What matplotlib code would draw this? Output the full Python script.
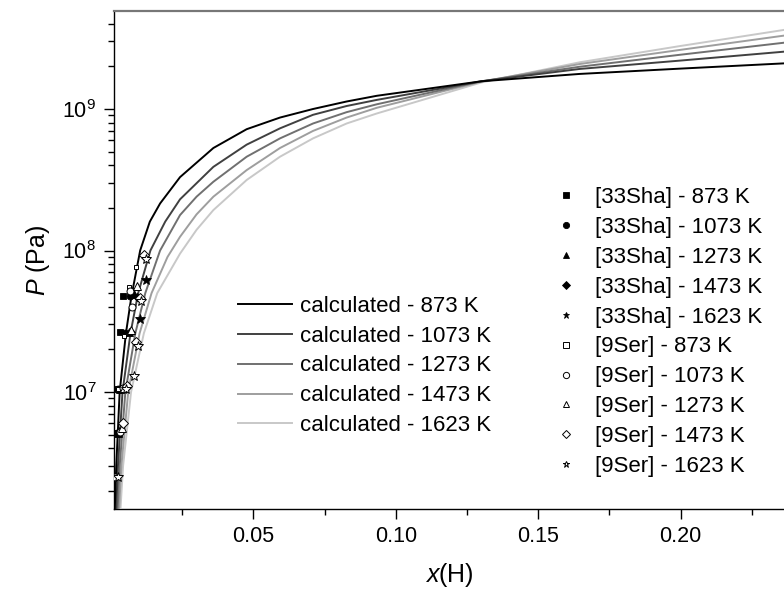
import matplotlib
matplotlib.use("Agg")
import matplotlib.pyplot as plt
from matplotlib.ticker import FixedLocator, NullFormatter, LogLocator, LogFormatterSciNotation

plt.rcParams['font.family'] = ['Liberation Sans', 'DejaVu Sans']
plt.rcParams['mathtext.fontset'] = 'custom'
plt.rcParams['mathtext.rm'] = 'Liberation Sans'
plt.rcParams['mathtext.it'] = 'Liberation Sans:italic'

# calculated curves (x(H), P in Pa)
temps = ['873', '1073', '1273', '1473', '1623']

x_873 = [0.0013, 0.0018, 0.0030, 0.0052, 0.0071, 0.0102, 0.0136, 0.0172, 0.0242, 0.0359,
         0.0476, 0.0593, 0.0709, 0.0827, 0.0933, 0.1300, 0.1646, 0.2000, 0.2400]
p_873 = [1.5e6, 3.0e6, 1.0e7, 2.6e7, 4.7e7, 1.0e8, 1.6e8, 2.15e8, 3.3e8, 5.3e8,
         7.2e8, 8.7e8, 1.0e9, 1.13e9, 1.24e9, 1.57e9, 1.77e9, 1.93e9, 2.12e9]

x_1073 = [0.0018, 0.0024, 0.0040, 0.0068, 0.0095, 0.0138, 0.0190, 0.0242, 0.0359, 0.0476,
          0.0593, 0.0709, 0.0827, 0.0933, 0.1300, 0.1646, 0.2000, 0.2400]
p_1073 = [1.5e6, 3.0e6, 1.0e7, 2.6e7, 5.0e7, 1.0e8, 1.6e8, 2.3e8, 3.9e8, 5.6e8,
          7.3e8, 9.1e8, 1.05e9, 1.16e9, 1.57e9, 1.92e9, 2.2e9, 2.58e9]

x_1273 = [0.0023, 0.0030, 0.0050, 0.0085, 0.0120, 0.0172, 0.0242, 0.0300, 0.0359, 0.0476,
          0.0593, 0.0709, 0.0827, 0.0933, 0.1300, 0.1646, 0.2000, 0.2400]
p_1273 = [1.5e6, 3.0e6, 1.0e7, 2.6e7, 5.0e7, 1.0e8, 1.78e8, 2.4e8, 3.06e8, 4.6e8,
          6.2e8, 7.9e8, 9.5e8, 1.08e9, 1.57e9, 1.99e9, 2.42e9, 3.0e9]

x_1473 = [0.0028, 0.0036, 0.0060, 0.0100, 0.0142, 0.0198, 0.0242, 0.0300, 0.0359, 0.0476,
          0.0593, 0.0709, 0.0827, 0.0933, 0.1300, 0.1646, 0.2000, 0.2400]
p_1473 = [1.5e6, 3.0e6, 1.0e7, 2.6e7, 5.0e7, 9.0e7, 1.25e8, 1.8e8, 2.4e8, 3.7e8,
          5.3e8, 7.0e8, 8.7e8, 1.02e9, 1.56e9, 2.08e9, 2.62e9, 3.38e9]

x_1623 = [0.0033, 0.0042, 0.0070, 0.0115, 0.0162, 0.0242, 0.0300, 0.0359, 0.0476, 0.0593,
          0.0709, 0.0827, 0.0933, 0.1300, 0.1646, 0.2000, 0.2400]
p_1623 = [1.5e6, 3.0e6, 1.0e7, 2.6e7, 5.0e7, 9.5e7, 1.4e8, 1.93e8, 3.15e8, 4.6e8,
          6.2e8, 7.9e8, 9.3e8, 1.54e9, 2.14e9, 2.79e9, 3.72e9]

# experimental points
sha_873_x = [0.0018, 0.0020, 0.0031, 0.0042]
sha_873_p = [5.1e6, 1.05e7, 2.65e7, 4.8e7]
sha_1073_x = [0.0020, 0.0024, 0.0050, 0.0068]
sha_1073_p = [5.1e6, 1.05e7, 2.6e7, 4.8e7]
sha_1273_x = [0.0023, 0.0030, 0.0062, 0.0080]
sha_1273_p = [5.1e6, 1.05e7, 2.65e7, 4.9e7]
sha_1473_x = [0.0026, 0.0035, 0.0070, 0.0090]
sha_1473_p = [5.1e6, 1.05e7, 2.65e7, 4.7e7]
sha_1623_x = [0.0029, 0.0040, 0.0101, 0.0123]
sha_1623_p = [5.2e6, 1.05e7, 3.3e7, 6.2e7]

ser_873_x = [0.0012, 0.0025, 0.0046, 0.0062, 0.0087]
ser_873_p = [2.5e6, 1.05e7, 2.5e7, 5.5e7, 7.7e7]
ser_1073_x = [0.0013, 0.0030, 0.0040, 0.0072, 0.0068]
ser_1073_p = [2.5e6, 5.2e6, 1.06e7, 4.0e7, 5.2e7]
ser_1273_x = [0.0038, 0.0045, 0.0070, 0.0090]
ser_1273_p = [5.6e6, 1.07e7, 2.75e7, 5.6e7]
ser_1473_x = [0.0040, 0.0055, 0.0087, 0.0100, 0.0117]
ser_1473_p = [6.0e6, 1.1e7, 2.25e7, 4.6e7, 9.3e7]
ser_1623_x = [0.0025, 0.0052, 0.0080, 0.0096, 0.0105, 0.0123]
ser_1623_p = [2.5e6, 1.05e7, 1.3e7, 2.1e7, 4.4e7, 8.7e7]

curve_x = [x_873, x_1073, x_1273, x_1473, x_1623]
curve_p = [p_873, p_1073, p_1273, p_1473, p_1623]
curve_colors = ['#000000', '#404040', '#707070', '#9e9e9e', '#c8c8c8']

sha_x = [sha_873_x, sha_1073_x, sha_1273_x, sha_1473_x, sha_1623_x]
sha_p = [sha_873_p, sha_1073_p, sha_1273_p, sha_1473_p, sha_1623_p]
ser_x = [ser_873_x, ser_1073_x, ser_1273_x, ser_1473_x, ser_1623_x]
ser_p = [ser_873_p, ser_1073_p, ser_1273_p, ser_1473_p, ser_1623_p]
markers = ['s', 'o', '^', 'D', '*']
msizes = [4.5, 5, 5.5, 4.5, 7]
ser_msizes = [3, 5, 5.5, 5, 7]

fig = plt.figure(figsize=(7.84, 5.90), dpi=100)
ax = fig.add_axes([0.1458, 0.1373, 0.8542, 0.8441])

curve_lines = []
for i, t in enumerate(temps):
    ln, = ax.plot(curve_x[i], curve_p[i], color=curve_colors[i], lw=1.4,
                  zorder=3 - 0.1 * i, label='calculated - %s K' % t)
    curve_lines.append(ln)

pt_handles = []
for i, t in enumerate(temps):
    h, = ax.plot(sha_x[i], sha_p[i], ls='none', marker=markers[i], ms=msizes[i],
                 mfc='black', mec='black', mew=0.6, zorder=5,
                 label='[33Sha] - %s K' % t)
    pt_handles.append(h)
for i, t in enumerate(temps):
    h, = ax.plot(ser_x[i], ser_p[i], ls='none', marker=markers[i], ms=ser_msizes[i],
                 mfc='white', mec='black', mew=0.7, zorder=6,
                 label='[9Ser] - %s K' % t)
    pt_handles.append(h)

ax.set_yscale('log')
ax.set_xlim(0.00112, 0.2363)
ax.set_ylim(1.49e6, 4.93e9)

ax.xaxis.set_major_locator(FixedLocator([0.05, 0.10, 0.15, 0.20]))
ax.xaxis.set_minor_locator(FixedLocator([0.025, 0.075, 0.125, 0.175, 0.225]))
ax.set_xticklabels(['0.05', '0.10', '0.15', '0.20'])
ax.yaxis.set_major_locator(LogLocator(base=10, numticks=10))
ax.yaxis.set_major_formatter(LogFormatterSciNotation())
ax.yaxis.set_minor_locator(LogLocator(base=10, subs=range(2, 10), numticks=20))
ax.yaxis.set_minor_formatter(NullFormatter())

ax.tick_params(which='major', direction='out', length=7, width=1, labelsize=15.5, pad=5)
ax.tick_params(which='minor', direction='out', length=4.5, width=1)
ax.tick_params(axis='y', which='major', pad=6)

ax.spines['right'].set_visible(False)
ax.spines['top'].set_color('#777777')
ax.spines['top'].set_linewidth(1.6)
for s in ['left', 'bottom']:
    ax.spines[s].set_linewidth(1.0)

ax.set_xlabel('$x$(H)', fontsize=18)
ax.set_ylabel('$P$ (Pa)', fontsize=18)
ax.xaxis.set_label_coords(0.5, -0.105)
ax.yaxis.set_label_coords(-0.093, 0.5)

leg1 = fig.legend(handles=curve_lines, loc='center left', frameon=False, fontsize=16,
                  bbox_to_anchor=(238 / 784, 1 - 366 / 590), borderpad=0, borderaxespad=0,
                  handlelength=2.43, handletextpad=0.36, labelspacing=0.4)
leg2 = fig.legend(handles=pt_handles, loc='center left', frameon=False, fontsize=16,
                  bbox_to_anchor=(555 / 784, 1 - 332 / 590), borderpad=0, borderaxespad=0,
                  handlelength=1.0, handletextpad=0.8, labelspacing=0.4, numpoints=1)
for h in leg2.legend_handles:
    h.set_markersize(4.5)

fig.savefig('out.png', dpi=100)
